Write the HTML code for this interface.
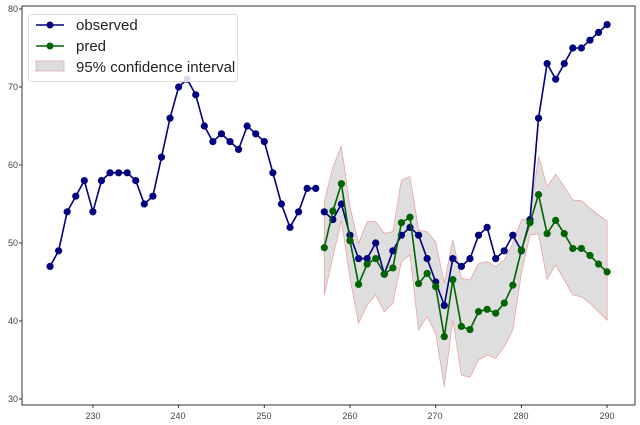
<!DOCTYPE html>
<html><head><meta charset="utf-8"><style>
html,body{margin:0;padding:0;background:#fff;width:640px;height:425px;overflow:hidden}
svg{display:block;font-family:"Liberation Sans",sans-serif}
</style></head><body>
<svg id="s" width="640" height="425" xmlns="http://www.w3.org/2000/svg">
<rect x="0" y="0" width="640" height="425" fill="#fff"/>
<g id="ci"></g>
<g id="lines"></g>
<rect x="22" y="6" width="613" height="399" fill="none" stroke="#333" stroke-width="1"/>
<g font-size="9" fill="#444">
<text x="18" y="12" text-anchor="end">80</text>
<text x="18" y="90" text-anchor="end">70</text>
<text x="18" y="168" text-anchor="end">60</text>
<text x="18" y="246" text-anchor="end">50</text>
<text x="18" y="324" text-anchor="end">40</text>
<text x="18" y="402" text-anchor="end">30</text>
<text x="93" y="419" text-anchor="middle">230</text>
<text x="264" y="419" text-anchor="middle">250</text>
<text x="178" y="419" text-anchor="middle">240</text>
<text x="350" y="419" text-anchor="middle">260</text>
<text x="435" y="419" text-anchor="middle">270</text>
<text x="521" y="419" text-anchor="middle">280</text>
<text x="607" y="419" text-anchor="middle">290</text>
</g>
<g id="tk" stroke="#333"></g>
<rect x="28.5" y="14.5" width="209" height="67" rx="3" fill="#fff" fill-opacity="0.85" stroke="#ddd"/>
<line x1="36" y1="25" x2="64" y2="25" stroke="#000080" stroke-width="1.5"/><circle cx="50" cy="25" r="3.5" fill="#000080"/>
<line x1="36" y1="46" x2="64" y2="46" stroke="#006400" stroke-width="1.5"/><circle cx="50" cy="46" r="3.5" fill="#006400"/>
<rect x="36" y="61" width="28" height="10" fill="#dcdcdc" stroke="#e8a0a0" stroke-width="0.7"/>
<g font-size="15" fill="#222">
<text x="76" y="30">observed</text>
<text x="76" y="51">pred</text>
<text x="76" y="72">95% confidence interval</text>
</g>
</svg>
<script>
var X=function(t){return 350+(t-260)*8.57},Y=function(v){return 9+(80-v)*7.8};
var obs1=[47,49,54,56,58,54,58,59,59,59,58,55,56,61,66,70,71,69,65,63,64,63,62,65,64,63,59,55,52,54,57,57];
var obs2=[54,53,55,51,48,48,50,46,49,51,52,51,48,45,42,48,47,48,51,52,48,49,51,49,53,66,73,71,73,75,75,76,77,78];
var pred=[49.4,54.1,57.6,50.3,44.7,47.3,48.0,46.0,46.8,52.6,53.3,44.8,46.1,44.4,38.0,45.3,39.3,38.9,41.2,41.5,41.0,42.3,44.6,49.1,52.6,56.2,51.2,52.9,51.2,49.3,49.3,48.4,47.3,46.3];
var up=[185,80,18,200,310,245,245,280,275,120,110,270,275,305,430,300,415,420,370,365,380,360,310,240,235,48,140,103,140,180,182,205,225,243];
var lo=[465,350,240,415,550,495,465,515,490,365,345,570,530,580,740,540,705,712,660,645,655,620,570,400,285,282,418,375,420,465,470,490,515,540];
var ns="http://www.w3.org/2000/svg";
function el(p,n,a){var e=document.createElementNS(ns,n);for(var k in a)e.setAttribute(k,a[k]);p.appendChild(e);return e}
var pts=[];for(var i=0;i<34;i++)pts.push(X(257+i).toFixed(1)+","+(140+up[i]/3).toFixed(1));
for(var i=33;i>=0;i--)pts.push(X(257+i).toFixed(1)+","+(140+lo[i]/3).toFixed(1));
el(document.getElementById("ci"),"polygon",{points:pts.join(" "),fill:"#dcdcdc","fill-opacity":"0.95",stroke:"#eba3a3","stroke-width":"0.8"});
var L=document.getElementById("lines");
function series(arr,t0,c){var p=arr.map(function(v,i){return X(t0+i).toFixed(1)+","+Y(v).toFixed(1)});
el(L,"polyline",{points:p.join(" "),fill:"none",stroke:c,"stroke-width":"1.6"});
arr.forEach(function(v,i){el(L,"circle",{cx:X(t0+i),cy:Y(v),r:3.6,fill:c})})}
series(obs1,225,"#000080");series(obs2,257,"#000080");series(pred,257,"#006400");
var T=document.getElementById("tk");
[80,70,60,50,40,30].forEach(function(v){el(T,"line",{x1:19,x2:22,y1:Y(v),y2:Y(v)})});
[230,240,250,260,270,280,290].forEach(function(t){el(T,"line",{x1:X(t),x2:X(t),y1:405,y2:408})});
</script>
</body></html>
